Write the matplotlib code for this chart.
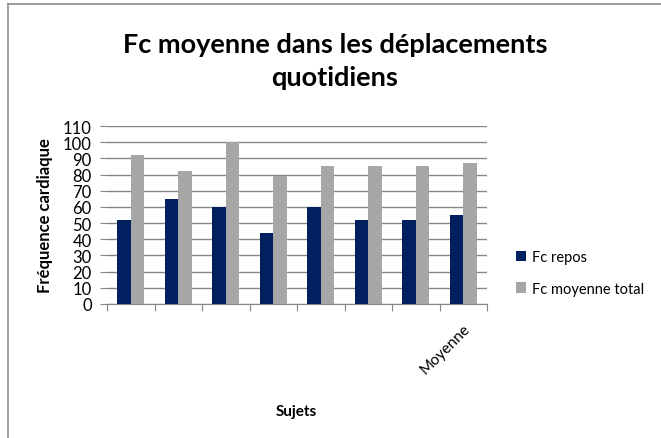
import matplotlib
matplotlib.use("Agg")
import matplotlib.pyplot as plt
import numpy as np
from matplotlib.lines import Line2D

categories = ["", "", "", "", "", "", "", "Moyenne"]
fc_repos = [52, 65, 60, 44, 60, 52, 52, 55]
fc_total = [92, 82, 100, 79, 85, 85, 85, 87]
yticks = [0, 10, 20, 30, 40, 50, 60, 70, 80, 90, 100, 110]

plt.rcParams['font.family'] = ['Lato', 'DejaVu Sans']

fig = plt.figure(figsize=(6.61, 4.39), dpi=100)
ax = fig.add_axes([107/661, 1-305/439, (487-107)/661, (305-127)/439])

x = np.arange(len(categories))
w = 0.285
ax.bar(x - w/2, fc_repos, w, color='#002060', label='Fc repos', zorder=3)
ax.bar(x + w/2, fc_total, w, color='#A6A6A6', label='Fc moyenne total', zorder=3)

ax.set_xlim(-0.5, len(categories) - 0.5)
ax.set_ylim(0, 110)
ax.set_yticks(yticks)
ax.set_yticklabels([str(v) for v in yticks], fontsize=12)
ax.yaxis.grid(True, color='#868686', linewidth=1)
ax.set_axisbelow(True)
ax.tick_params(axis='y', length=5, color='#868686', pad=6)

ax.set_xticks(np.arange(len(categories) + 1) - 0.5, minor=False)
ax.set_xticklabels([])
ax.tick_params(axis='x', which='major', length=5, color='#868686')
ax.set_xticks(x, minor=True)
ax.set_xticklabels(categories, minor=True, rotation=45, ha='right',
                   rotation_mode='anchor', fontsize=11)
ax.tick_params(axis='x', which='minor', length=0, pad=12)

for s in ['top', 'right', 'left']:
    ax.spines[s].set_visible(False)
ax.spines['bottom'].set_color('#868686')

ax.set_ylabel('Fréquence cardiaque', fontsize=12, fontweight='bold', labelpad=7)
fig.text(296/661, 1-412/439, 'Sujets', fontsize=11, fontweight='bold', ha='center', va='center')

fig.text(335/661, 1-45/439, 'Fc moyenne dans les déplacements', fontsize=19.5,
         fontweight='bold', ha='center', va='center')
fig.text(335/661, 1-78/439, 'quotidiens', fontsize=19.5,
         fontweight='bold', ha='center', va='center')

fig.legend(loc='upper left', bbox_to_anchor=(503/661, 1-238/439), frameon=False,
           fontsize=10.5, handlelength=0.7, handleheight=0.7, labelspacing=1.2,
           handletextpad=0.4)

# chart-area border (only top and left edges visible in the reference crop)
fig.add_artist(Line2D([8/661, 1.0], [1-5/439, 1-5/439], transform=fig.transFigure,
                      color='#8C8C8C', linewidth=1.2))
fig.add_artist(Line2D([8/661, 8/661], [0.0, 1-5/439], transform=fig.transFigure,
                      color='#8C8C8C', linewidth=1.2))

fig.savefig('out.png', dpi=100)
